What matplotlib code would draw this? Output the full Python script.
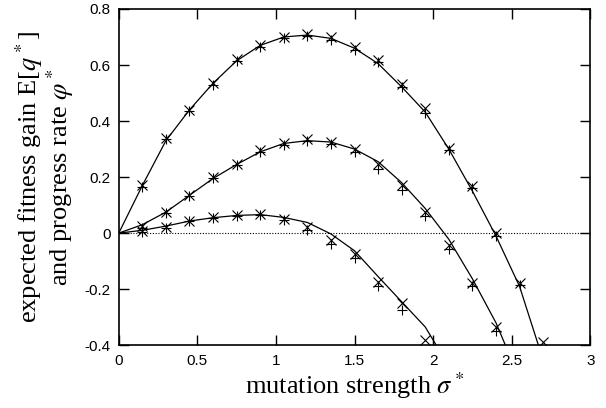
import matplotlib.pyplot as plt
import numpy as np

plt.rcParams['mathtext.fontset'] = 'stix'

# sigma* positions of the simulated points
sigma_pts = [0.15, 0.3, 0.45, 0.6, 0.75, 0.9, 1.05, 1.2, 1.35, 1.5,
             1.65, 1.8, 1.95, 2.1, 2.25, 2.4, 2.55, 2.7]

# simulated E[q*] (x markers) and phi* (+ markers), three configurations
q_high = [0.17, 0.34, 0.44, 0.535, 0.62, 0.67, 0.70, 0.71, 0.70, 0.665,
          0.618, 0.531, 0.445, 0.305, 0.169, 0.0, -0.177, -0.39]
phi_high = [0.165, 0.335, 0.435, 0.53, 0.615, 0.665, 0.695, 0.705, 0.69, 0.655,
            0.61, 0.52, 0.43, 0.295, 0.16, -0.01, -0.185, -0.42]
q_mid = [0.025, 0.074, 0.136, 0.199, 0.246, 0.296, 0.32, 0.335, 0.326, 0.30,
         0.246, 0.171, 0.076, -0.043, -0.177, -0.335]
phi_mid = [0.02, 0.07, 0.132, 0.195, 0.242, 0.29, 0.315, 0.328, 0.318, 0.29,
           0.23, 0.155, 0.06, -0.055, -0.19, -0.35]
q_low = [0.008, 0.023, 0.044, 0.056, 0.064, 0.068, 0.052, 0.022, -0.025, -0.073,
         -0.174, -0.251, -0.38]
phi_low = [0.005, 0.02, 0.042, 0.054, 0.062, 0.065, 0.045, 0.01, -0.04, -0.09,
           -0.19, -0.273, -0.42]

# theoretical curves
sig_high = [0, 0.15, 0.3, 0.45, 0.6, 0.75, 0.9, 1.05, 1.2, 1.35, 1.5, 1.65,
            1.8, 1.95, 2.1, 2.25, 2.4, 2.55, 2.67]
th_high = [0, 0.17, 0.33, 0.44, 0.535, 0.615, 0.67, 0.70, 0.707, 0.695, 0.66,
           0.605, 0.522, 0.432, 0.30, 0.15, -0.01, -0.19, -0.40]
sig_mid = [0, 0.15, 0.3, 0.45, 0.6, 0.75, 0.9, 1.05, 1.2, 1.35, 1.5, 1.65,
           1.8, 1.95, 2.1, 2.25, 2.4, 2.46]
th_mid = [0, 0.03, 0.075, 0.135, 0.195, 0.245, 0.29, 0.32, 0.33, 0.325, 0.30,
          0.255, 0.18, 0.088, -0.022, -0.163, -0.32, -0.40]
sig_low = [0, 0.15, 0.3, 0.45, 0.6, 0.75, 0.9, 1.05, 1.2, 1.35, 1.5, 1.65,
           1.8, 1.95, 2.02]
th_low = [0, 0.01, 0.025, 0.043, 0.055, 0.063, 0.066, 0.056, 0.038, -0.003,
          -0.063, -0.155, -0.245, -0.335, -0.40]

fig = plt.figure(figsize=(6.06, 4.08), dpi=100)
ax = fig.add_axes([0.196, 0.154, 0.778, 0.824])

ax.axhline(0, color='k', lw=0.8, ls=(0, (1, 1.5)))
for s, t in [(sig_high, th_high), (sig_mid, th_mid), (sig_low, th_low)]:
    ax.plot(s, t, color='k', lw=0.9)

for q, p in [(q_high, phi_high), (q_mid, phi_mid), (q_low, phi_low)]:
    n = len(q)
    ax.plot(sigma_pts[:n], p, ls='none', marker='+', ms=7, mew=0.8, color='k')
    ax.plot(sigma_pts[:n], q, ls='none', marker='x', ms=7, mew=0.8, color='k')

ax.set_xlim(0, 3)
ax.set_ylim(-0.4, 0.8)
ax.set_xticks([0, 0.5, 1, 1.5, 2, 2.5, 3])
ax.set_xticklabels(['0', '0.5', '1', '1.5', '2', '2.5', '3'])
ax.set_yticks([-0.4, -0.2, 0, 0.2, 0.4, 0.6, 0.8])
ax.set_yticklabels(['-0.4', '-0.2', '0', '0.2', '0.4', '0.6', '0.8'])
ax.tick_params(direction='in', length=7, width=1, top=True, right=True,
               labelsize=11, pad=6)
for lab in ax.get_xticklabels() + ax.get_yticklabels():
    lab.set_family('Liberation Sans')
for sp in ax.spines.values():
    sp.set_linewidth(1.2)

ax.set_xlabel(r'mutation strength $\sigma^*$', family='Liberation Serif',
              fontsize=19, labelpad=2)
ax.set_ylabel('expected fitness gain E[$q^*$]\nand progress rate $\\varphi^*$',
              family='Liberation Serif', fontsize=19, labelpad=6,
              linespacing=0.95)

fig.savefig('out.png', dpi=100)
